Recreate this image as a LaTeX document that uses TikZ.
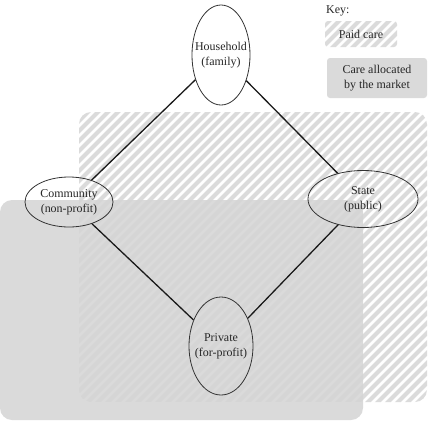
\documentclass[tikz,border=0pt]{standalone}
\usepackage{fontspec}
\setmainfont{Liberation Serif}
\usetikzlibrary{shapes.geometric}
\newcommand\mytwo[2]{\makebox[0pt]{\begin{tabular}{@{}c@{}}#1\\#2\end{tabular}}}
\begin{document}
\begin{tikzpicture}[x=1bp,y=-1bp,
  ell/.style={ellipse, draw=black!80, line width=0.8bp, inner sep=0pt},
  link/.style={draw=black!90, line width=1.3bp},
  stripe/.style={line width=4.2bp, draw=black!14},
  graybox/.style={fill=black!17, fill opacity=0.85},
  lbl/.style={font=\fontsize{12}{14.5}\selectfont, text=black!85}]
\useasboundingbox (0,0) rectangle (431,426);
% hatched area (paid care)
\begin{scope}
  \clip[rounded corners=12bp] (79,112) rectangle (427,402);
  \foreach \c in {-440,-430,...,440} \draw[stripe] (\c,430) -- ++(440,-440);
\end{scope}
% key hatched box
\begin{scope}
  \clip[rounded corners=3bp] (325,21) rectangle (397,47);
  \foreach \c in {-440,-430,...,440} \draw[stripe] (\c,430) -- ++(440,-440);
\end{scope}
% gray area (market)
\fill[graybox, rounded corners=12bp] (0,200) rectangle (363,420);
\fill[graybox, rounded corners=3bp] (327,58) rectangle (427,98);
% key texts
\node[lbl, anchor=west, inner sep=0pt] (key) at (326,11) {Key:};
\node[lbl] (paid) at (361,34) {Paid care};
\node[lbl, align=center] (market) at (377,78) {Care allocated\\by the market};
% ellipses
\node[ell, lbl, minimum width=58bp, minimum height=100bp] (house) at (221,55) {\mytwo{Household}{(family)}};
\node[ell, lbl, minimum width=88bp, minimum height=50bp] (comm) at (69,202) {\mytwo{Community}{(non-profit)}};
\node[ell, lbl, minimum width=110bp, minimum height=57bp] (state) at (363,199) {\mytwo{State}{(public)}};
\node[ell, lbl, minimum width=64bp, minimum height=98bp] (priv) at (221,346) {\mytwo{Private}{(for-profit)}};
% connectors
\draw[link] (house) -- (comm);
\draw[link] (house) -- (state);
\draw[link] (comm) -- (priv);
\draw[link] (state) -- (priv);
\end{tikzpicture}
\end{document}
